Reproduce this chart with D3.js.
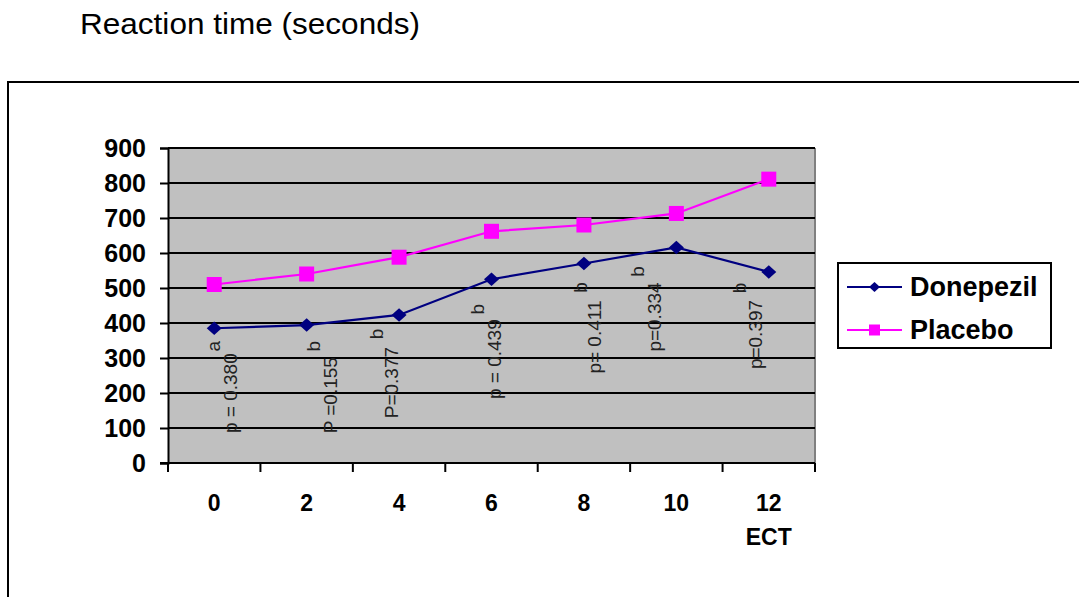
<!DOCTYPE html>
<html>
<head>
<meta charset="utf-8">
<script src="https://cdn.jsdelivr.net/npm/d3@7"></script>
<style>
  html, body { margin: 0; padding: 0; background: #fff; }
  svg { display: block; font-family: "Liberation Sans", Arial, sans-serif; }
</style>
</head>
<body>
<svg id="chart" width="1079" height="597"></svg>
<script>
// Weeks of treatment (x categories)
const weeks = ["0", "2", "4", "6", "8", "10", "12"];
const weekSubLabels = ["", "", "", "", "", "", "ECT"];

// Mean reaction time per group
const donepezil = [385, 394, 423, 525, 570, 616, 546];
const placebo   = [510, 540, 588, 662, 680, 713, 811];

// Per-point significance letters and p-values
const sigLetters = ["a", "b", "b", "b", "b", "b", "b"];
const pLabels = ["p = 0.380", "P =0.155", "P=0.377", "p = 0.439", "p= 0.411", "p=0.334", "p=0.397"];

const yTicks = [0, 100, 200, 300, 400, 500, 600, 700, 800, 900];

// Hand-placed label nudges (px) relative to the Donepezil marker
const letterNudge = [[-1, 18], [7, 21], [-23, 19], [-14, 30], [-3, 24], [-39, 24], [-29, 16]];
const pNudge      = [[16, 25], [24, 32], [-8, 32], [3, 40], [11, 37], [-22, 35], [-13, 28]];

const svg = d3.select("#chart");

// Title
svg.append("text")
  .attr("x", 80).attr("y", 34)
  .attr("font-size", 29)
  .attr("textLength", 340)
  .attr("lengthAdjust", "spacingAndGlyphs")
  .attr("fill", "#000")
  .text("Reaction time (seconds)");

// Outer frame
svg.append("rect")
  .attr("x", 8).attr("y", 82)
  .attr("width", 1100).attr("height", 600)
  .attr("fill", "none").attr("stroke", "#000").attr("stroke-width", 2);

const plot = { left: 168, right: 815, top: 148, bottom: 463 };

const x = d3.scaleBand().domain(weeks).range([plot.left, plot.right]);
const y = d3.scaleLinear().domain([0, 900]).range([plot.bottom, plot.top]);
const cx = w => x(w) + x.bandwidth() / 2;

// Plot background
svg.append("rect")
  .attr("x", plot.left).attr("y", plot.top)
  .attr("width", plot.right - plot.left).attr("height", plot.bottom - plot.top)
  .attr("fill", "#c0c0c0");

// Right edge
svg.append("line")
  .attr("x1", plot.right).attr("x2", plot.right)
  .attr("y1", plot.top).attr("y2", plot.bottom)
  .attr("stroke", "#808080").attr("stroke-width", 2);

// Gridlines
svg.append("g").selectAll("line").data(yTicks.filter(t => t > 0)).join("line")
  .attr("x1", plot.left).attr("x2", plot.right)
  .attr("y1", d => y(d)).attr("y2", d => y(d))
  .attr("stroke", "#000").attr("stroke-width", 1.8);

// Y axis
const yAxis = svg.append("g")
  .attr("transform", `translate(${plot.left},0)`)
  .call(d3.axisLeft(y).tickValues(yTicks).tickSize(8).tickPadding(14).tickFormat(d3.format("d")));
yAxis.select(".domain").attr("stroke", "#000").attr("stroke-width", 2);
yAxis.selectAll(".tick line").attr("stroke", "#000").attr("stroke-width", 2);
yAxis.selectAll(".tick text")
  .attr("font-family", "'Liberation Sans', Arial, sans-serif")
  .attr("font-size", 25).attr("font-weight", "bold").attr("fill", "#000");

// X axis: ticks at category boundaries
const bounds = weeks.map(w => x(w)).concat([plot.right]);
svg.append("line")
  .attr("x1", plot.left - 8).attr("x2", plot.right)
  .attr("y1", plot.bottom).attr("y2", plot.bottom)
  .attr("stroke", "#000").attr("stroke-width", 2);
svg.append("g").selectAll("line").data(bounds).join("line")
  .attr("x1", d => d).attr("x2", d => d)
  .attr("y1", plot.bottom).attr("y2", plot.bottom + 9)
  .attr("stroke", "#000").attr("stroke-width", 2);

svg.append("g").selectAll("text").data(weeks).join("text")
  .attr("x", d => cx(d)).attr("y", 511)
  .attr("text-anchor", "middle")
  .attr("font-size", 23).attr("font-weight", "bold")
  .text(d => d);
svg.append("g").selectAll("text").data(weeks.filter((w, i) => weekSubLabels[i])).join("text")
  .attr("x", d => cx(d)).attr("y", 545)
  .attr("text-anchor", "middle")
  .attr("font-size", 23).attr("font-weight", "bold")
  .text(d => weekSubLabels[weeks.indexOf(d)]);

// Series
const series = [
  { name: "Donepezil", values: donepezil, color: "#000080", shape: "diamond" },
  { name: "Placebo", values: placebo, color: "#ff00ff", shape: "square" }
];

const line = d3.line().x((d, i) => cx(weeks[i])).y(d => y(d));

function marker(sel, shape, color, s) {
  if (shape === "diamond") {
    sel.append("path")
      .attr("d", `M0,${-s * 0.9}L${s},0L0,${s * 0.9}L${-s},0Z`)
      .attr("fill", color);
  } else {
    sel.append("rect")
      .attr("x", -s).attr("y", -s).attr("width", 2 * s).attr("height", 2 * s)
      .attr("fill", color);
  }
}

series.forEach(s => {
  svg.append("path")
    .datum(s.values)
    .attr("d", line)
    .attr("fill", "none")
    .attr("stroke", s.color)
    .attr("stroke-width", 2.2);
  svg.append("g").selectAll("g").data(s.values).join("g")
    .attr("transform", (d, i) => `translate(${cx(weeks[i])},${y(d)})`)
    .each(function () { marker(d3.select(this), s.shape, s.color, 7.5); });
});

// Significance annotations (rotated)
const ann = svg.append("g").attr("fill", "#222").attr("font-size", 19);
weeks.forEach((w, i) => {
  const px = cx(w), py = y(donepezil[i]);
  const [lx, ly] = letterNudge[i];
  ann.append("text")
    .attr("transform", `translate(${px + lx},${py + ly}) rotate(-90)`)
    .attr("text-anchor", "middle")
    .attr("dominant-baseline", "central")
    .text(sigLetters[i]);
  const [qx, qy] = pNudge[i];
  ann.append("text")
    .attr("transform", `translate(${px + qx},${py + qy}) rotate(-90)`)
    .attr("text-anchor", "end")
    .attr("dominant-baseline", "central")
    .text(pLabels[i]);
});

// Legend
const legend = svg.append("g");
legend.append("rect")
  .attr("x", 838).attr("y", 263).attr("width", 213).attr("height", 85)
  .attr("fill", "#fff").attr("stroke", "#000").attr("stroke-width", 2);
series.forEach((s, i) => {
  const ly = 287 + i * 43;
  legend.append("line")
    .attr("x1", 847).attr("x2", 902).attr("y1", ly).attr("y2", ly)
    .attr("stroke", s.color).attr("stroke-width", 2);
  const g = legend.append("g").attr("transform", `translate(874.5,${ly})`);
  marker(g, s.shape, s.color, 5.5);
  legend.append("text")
    .attr("x", 910).attr("y", ly)
    .attr("dominant-baseline", "central")
    .attr("font-size", 27).attr("font-weight", "bold")
    .text(s.name);
});
</script>
</body>
</html>
